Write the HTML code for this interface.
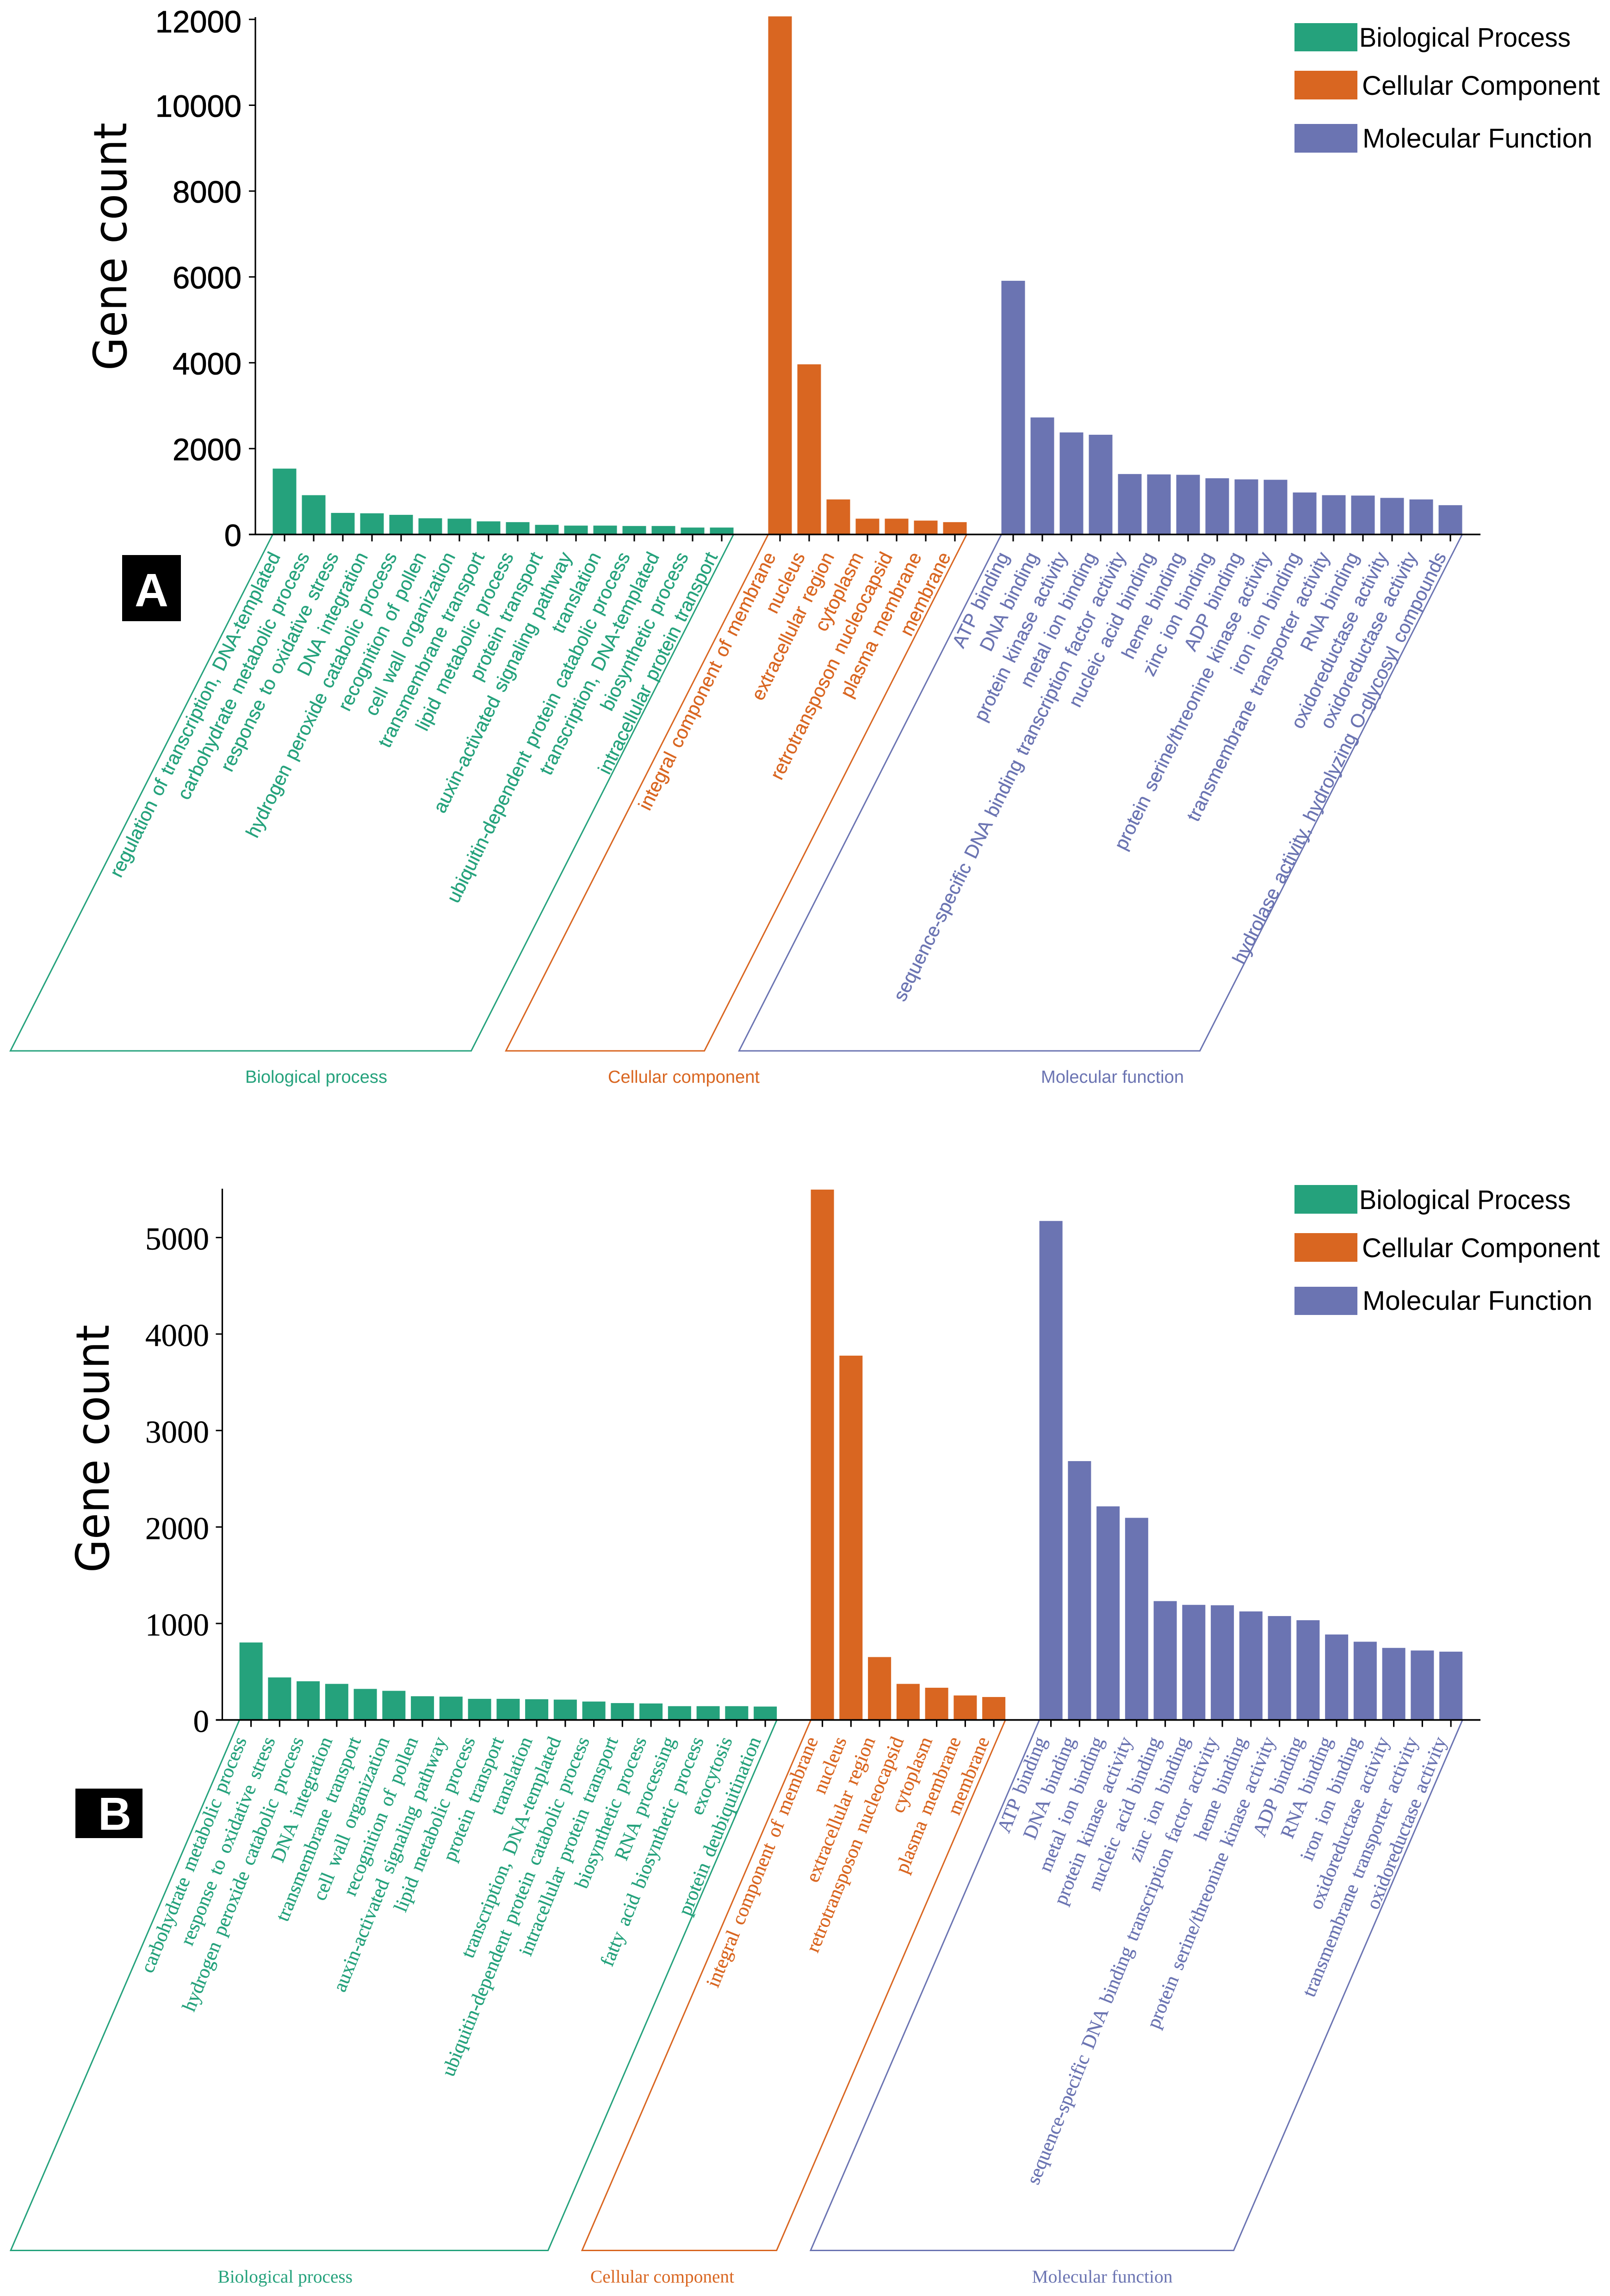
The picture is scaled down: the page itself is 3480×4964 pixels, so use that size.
<!DOCTYPE html>
<html lang="en">
<head>
<meta charset="utf-8">
<title>Gene count by GO category</title>
<style>
html,body{margin:0;padding:0;background:#fff;}
svg{display:block;}
.sans{font-family:"Liberation Sans",sans-serif;}
.serif{font-family:"Liberation Serif",serif;}
.title{font-family:"DejaVu Sans",sans-serif;}
</style>
</head>
<body>
<svg id="chart" xmlns="http://www.w3.org/2000/svg" width="3480" height="4964" viewBox="0 0 3480 4964">
  <rect x="0" y="0" width="3480" height="4964" fill="#ffffff"/>

  <g id="panelA">
    <text class="title" font-size="99" text-anchor="middle" transform="translate(273,533) rotate(-90)" textLength="536" lengthAdjust="spacingAndGlyphs" fill="#000">Gene count</text>
    <rect x="264" y="1200" width="127" height="143" fill="#000"/>
    <text class="sans" font-size="101" font-weight="700" text-anchor="middle" x="327.5" y="1311" fill="#fff">A</text>
    <g>
      <rect x="2798" y="50" width="136" height="61" fill="#25A27C"/>
      <text class="sans" font-size="58" x="2938" y="101" textLength="457" lengthAdjust="spacingAndGlyphs">Biological Process</text>
      <rect x="2798" y="153" width="136" height="62" fill="#D96621"/>
      <text class="sans" font-size="58" x="2944" y="205" textLength="514" lengthAdjust="spacingAndGlyphs">Cellular Component</text>
      <rect x="2798" y="268" width="136" height="62" fill="#6B74B2"/>
      <text class="sans" font-size="58" x="2945" y="319" textLength="497" lengthAdjust="spacingAndGlyphs">Molecular Function</text>
    </g>
  </g>

  <g id="panelB">
    <text class="title" font-size="99" text-anchor="middle" transform="translate(235,3132) rotate(-90)" textLength="536" lengthAdjust="spacingAndGlyphs" fill="#000">Gene count</text>
    <rect x="163" y="3867" width="145" height="107" fill="#000"/>
    <text class="sans" font-size="100" font-weight="700" text-anchor="middle" x="248" y="3956" fill="#fff">B</text>
    <g>
      <rect x="2798" y="2562" width="136" height="62" fill="#25A27C"/>
      <text class="sans" font-size="58" x="2938" y="2614" textLength="457" lengthAdjust="spacingAndGlyphs">Biological Process</text>
      <rect x="2798" y="2666" width="136" height="62" fill="#D96621"/>
      <text class="sans" font-size="58" x="2944" y="2718" textLength="514" lengthAdjust="spacingAndGlyphs">Cellular Component</text>
      <rect x="2798" y="2782" width="136" height="61" fill="#6B74B2"/>
      <text class="sans" font-size="58" x="2945" y="2832" textLength="497" lengthAdjust="spacingAndGlyphs">Molecular Function</text>
    </g>
  </g>
</svg>

<script>
/* ---------- Panel A data ---------- */
const categoriesABio = ["regulation of transcription, DNA-templated","carbohydrate metabolic process","response to oxidative stress","DNA integration","hydrogen peroxide catabolic process","recognition of pollen","cell wall organization","transmembrane transport","lipid metabolic process","protein transport","auxin-activated signaling pathway","translation","ubiquitin-dependent protein catabolic process","transcription, DNA-templated","biosynthetic process","intracellular protein transport"];
const valuesABio = [1534,915,502,493,457,377,368,305,287,224,206,206,197,197,161,161];
const categoriesACell = ["integral component of membrane","nucleus","extracellular region","cytoplasm","retrotransposon nucleocapsid","plasma membrane","membrane"];
const valuesACell = [12070,3964,816,368,368,323,287];
const categoriesAMol = ["ATP binding","DNA binding","protein kinase activity","metal ion binding","sequence-specific DNA binding transcription factor activity","nucleic acid binding","heme binding","zinc ion binding","ADP binding","protein serine/threonine kinase activity","iron ion binding","transmembrane transporter activity","RNA binding","oxidoreductase activity","oxidoreductase activity","hydrolase activity, hydrolyzing O-glycosyl compounds"];
const valuesAMol = [5910,2726,2377,2323,1408,1399,1390,1309,1283,1274,978,915,906,852,816,682];
const yTicksA = [0,2000,4000,6000,8000,10000,12000];

/* ---------- Panel B data ---------- */
const categoriesBBio = ["carbohydrate metabolic process","response to oxidative stress","hydrogen peroxide catabolic process","DNA integration","transmembrane transport","cell wall organization","recognition of pollen","auxin-activated signaling pathway","lipid metabolic process","protein transport","translation","transcription, DNA-templated","ubiquitin-dependent protein catabolic process","intracellular protein transport","biosynthetic process","RNA processing","fatty acid biosynthetic process","exocytosis","protein deubiquitination"];
const valuesBBio = [803,441,401,374,322,302,246,242,219,219,215,211,191,175,171,143,143,143,139];
const categoriesBCell = ["integral component of membrane","nucleus","extracellular region","retrotransposon nucleocapsid","cytoplasm","plasma membrane","membrane"];
const valuesBCell = [5497,3776,652,374,334,254,238];
const categoriesBMol = ["ATP binding","DNA binding","metal ion binding","protein kinase activity","nucleic acid binding","zinc ion binding","sequence-specific DNA binding transcription factor activity","heme binding","protein serine/threonine kinase activity","ADP binding","RNA binding","iron ion binding","oxidoreductase activity","transmembrane transporter activity","oxidoreductase activity"];
const valuesBMol = [5172,2683,2214,2095,1232,1193,1189,1125,1077,1034,886,811,747,720,708];
const yTicksB = [0,1000,2000,3000,4000,5000];

const groupNames = ["Biological process","Cellular component","Molecular function"];
const groupColors = ["#25A27C","#D96621","#6B74B2"];

const NS = "http://www.w3.org/2000/svg";

function make(parent, tag, attrs, text) {
  const el = document.createElementNS(NS, tag);
  for (const k in attrs) el.setAttribute(k, attrs[k]);
  if (text !== undefined) el.textContent = text;
  parent.appendChild(el);
  return el;
}
function slug(s) {
  return s.toLowerCase().replace(/[^a-z0-9]+/g, "-").replace(/^-|-$/g, "");
}

function drawPanel(p) {
  const root = document.getElementById(p.rootId);
  const yScale = v => p.baseY - v * p.pxPerUnit;
  const xScale = slot => p.x0 + slot * p.pitch;

  let slot = 0;
  p.groups.forEach((g, gi) => {
    const color = groupColors[gi];
    const firstSlot = slot;
    g.values.forEach((v, i) => {
      const cx = xScale(slot);
      const bar = make(root, "rect", {x: cx - p.barW / 2, y: yScale(v), width: p.barW, height: p.baseY - yScale(v), fill: color});
      
      

      const tick = make(root, "line", {x1: cx, x2: cx, y1: p.baseY, y2: p.baseY + 15, stroke: "#000", "stroke-width": 3.2});
      
      

      const lx = cx + p.labelDx;
      const ly = p.baseY + p.labelDy;
      const label = make(root, "text", {
        class: p.fontClass, "font-size": p.labelSize, "word-spacing": p.wordSpacing, fill: color,
        stroke: color, "stroke-width": 0.4,
        "text-anchor": "end", transform: "translate(" + lx + "," + ly + ") rotate(" + (-p.labelAngle) + ")"
      }, g.categories[i]);
      
      
      slot++;
    });
    const lastSlot = slot - 1;
    const left = xScale(firstSlot) - p.barW / 2;
    const right = xScale(lastSlot) + p.barW / 2;
    const frame = make(root, "polyline", {
      points: [left, p.baseY, left - p.shear, p.frameBottom, right - p.shear, p.frameBottom, right, p.baseY].join(" "),
      fill: "none", stroke: color, "stroke-width": 3
    });
    
    

    const cap = make(root, "text", {
      class: p.fontClass, "font-size": p.groupSize, fill: color,
      x: p.groupLabels[gi].x, y: p.groupLabelY, textLength: p.groupLabels[gi].w, lengthAdjust: "spacingAndGlyphs"
    }, groupNames[gi]);
    
    
    slot++; /* one empty slot between groups */
  });

  const yAxis = make(root, "line", {x1: p.axisX, x2: p.axisX, y1: p.axisTop, y2: p.baseY, stroke: "#000", "stroke-width": 3.2});
  
  

  const xAxis = make(root, "line", {x1: p.axisX - 14, x2: p.axisEnd, y1: p.baseY, y2: p.baseY, stroke: "#000", "stroke-width": 3.6});
  
  

  p.ticks.forEach(t => {
    const y = yScale(t);
    const tk = make(root, "line", {x1: p.axisX - 14, x2: p.axisX, y1: y, y2: y, stroke: "#000", "stroke-width": 3});
    
    

    const tl = make(root, "text", {
      class: p.fontClass, "font-size": p.tickSize, fill: "#000", stroke: "#000", "stroke-width": p.tickStroke, "text-anchor": "end",
      x: p.tickRight, y: Math.max(p.tickMinBaseline, y + p.tickDy)
    }, String(t));
    
    
  });
}

drawPanel({
  rootId: "panelA", fontClass: "sans",
  baseY: 1155.5, pxPerUnit: 0.0928, axisX: 552, axisTop: 37, axisEnd: 3200,
  x0: 615, pitch: 63, barW: 51,
  labelSize: 41, wordSpacing: 5, labelAngle: 63.6, labelDx: -8, labelDy: 47,
  shear: 567, frameBottom: 2272,
  groupSize: 38, groupLabelY: 2341,
  groupLabels: [{x: 530, w: 307}, {x: 1314, w: 328}, {x: 2250, w: 309}],
  tickSize: 67, tickStroke: 0.8, tickRight: 522, tickDy: 25, tickMinBaseline: 70,
  ticks: yTicksA,
  groups: [
    {categories: categoriesABio, values: valuesABio},
    {categories: categoriesACell, values: valuesACell},
    {categories: categoriesAMol, values: valuesAMol}
  ]
});

drawPanel({
  rootId: "panelB", fontClass: "serif",
  baseY: 3718.6, pxPerUnit: 0.2086, axisX: 480.5, axisTop: 2570, axisEnd: 3200,
  x0: 542.6, pitch: 61.75, barW: 50,
  labelSize: 42, wordSpacing: 7, labelAngle: 68, labelDx: -9, labelDy: 43.5,
  shear: 494.5, frameBottom: 4865.5,
  groupSize: 39, groupLabelY: 4935,
  groupLabels: [{x: 470.5, w: 291.5}, {x: 1276, w: 311}, {x: 2230.5, w: 304}],
  tickSize: 69, tickStroke: 0.4, tickRight: 452, tickDy: 26, tickMinBaseline: 0,
  ticks: yTicksB,
  groups: [
    {categories: categoriesBBio, values: valuesBBio},
    {categories: categoriesBCell, values: valuesBCell},
    {categories: categoriesBMol, values: valuesBMol}
  ]
});
</script>
</body>
</html>
